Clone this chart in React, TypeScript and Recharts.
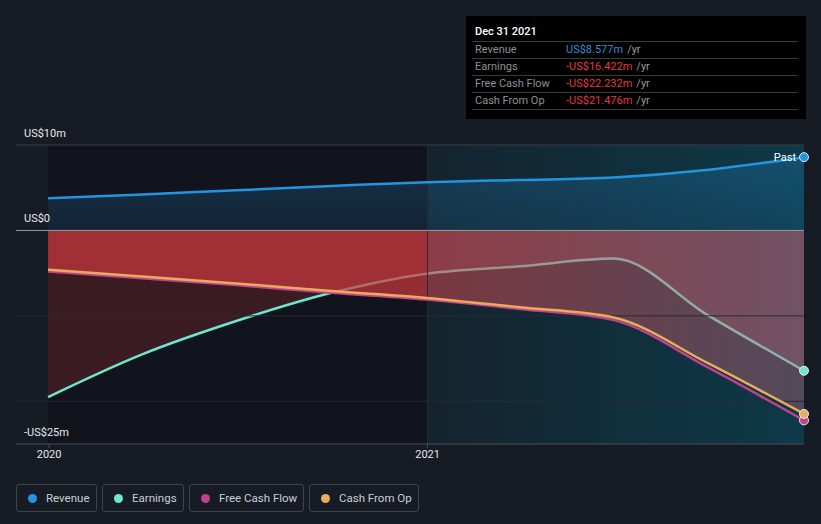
import React from "react";
import { ComposedChart, Area, Line, XAxis, YAxis, ReferenceLine } from "recharts";

// quarterly trailing-twelve-month values, US$ millions
const dates = ["2019-12-31", "2020-03-31", "2020-06-30", "2020-09-30", "2020-12-31", "2021-03-31", "2021-06-30", "2021-09-30", "2021-12-31"];
const revenue = [3.76, 4.2, 4.7, 5.2, 5.65, 5.9, 6.2, 7.1, 8.577];
const earnings = [-19.5, -14.5, -10.6, -7.3, -5.06, -4.2, -3.3, -10.0, -16.422];
const freeCashFlow = [-4.8, -5.6, -6.4, -7.3, -8.1, -9.2, -10.5, -16.1, -22.232];
const cashFromOp = [-4.6, -5.4, -6.2, -7.1, -7.9, -9.0, -10.2, -15.6, -21.476];

const yLabels = [
  { value: 10, text: "US$10m" },
  { value: 0, text: "US$0" },
  { value: -25, text: "-US$25m" },
];
const xTicks = [Date.UTC(2020, 0, 1), Date.UTC(2021, 0, 1)];

const DAY = 864e5;
const toTime = (d: string) => Date.parse(d + "T00:00:00Z");

const data = dates.map((d, i) => ({
  t: toTime(d),
  revenue: revenue[i],
  earnings: earnings[i],
  fcf: freeCashFlow[i],
  cfo: cashFromOp[i],
}));

const last = data.length - 1;
const tStart = data[0].t;
const tEnd = data[last].t;

const FONT = "Roboto, 'Open Sans', Arial, sans-serif";
const BG = "#161b24";

const C = {
  revenue: "#2394df",
  earnings: "#6ee7d0",
  fcf: "#c2418a",
  cfo: "#e8ad5c",
};

// plot spans x 16..804, y 145..444; the "past" highlight starts at 2021 (x 428)
const PAST_OFFSET = "52.3%";

const endDot = (color: string, label?: string) => (props: any) => {
  const { cx, cy, index } = props;
  if (index !== last) return <g key={`d${index}`} />;
  return (
    <g key={`d${index}`}>
      {label && (
        <text x={cx - 8} y={cy + 4} textAnchor="end" fill="#ffffff" fontSize={11} fontFamily={FONT}>
          {label}
        </text>
      )}
      <circle cx={cx} cy={cy} r={4.5} fill={color} stroke="#e8eef5" strokeWidth={1} />
    </g>
  );
};

const yLabel = (text: string) => (props: any) => {
  const { viewBox } = props;
  return (
    <text x={24} y={viewBox.y - 8} fill="#e8e8e8" fontSize={11} fontFamily={FONT}>
      {text}
    </text>
  );
};

const legendItems = [
  { name: "Revenue", color: C.revenue, width: 81 },
  { name: "Earnings", color: C.earnings, width: 82 },
  { name: "Free Cash Flow", color: C.fcf, width: 115 },
  { name: "Cash From Op", color: C.cfo, width: 110 },
];

const tooltipRows = [
  { name: "Revenue", value: "US$8.577m", color: "#2e8fd6" },
  { name: "Earnings", value: "-US$16.422m", color: "#e5383e" },
  { name: "Free Cash Flow", value: "-US$22.232m", color: "#e5383e" },
  { name: "Cash From Op", value: "-US$21.476m", color: "#e5383e" },
];

export default function App() {
  return (
    <div style={{ position: "fixed", left: 0, top: 0, width: 821, height: 524, background: BG, fontFamily: FONT, overflow: "hidden" }}>
      {/* background bands behind the plot */}
      <div style={{ position: "absolute", left: 48, top: 145, width: 380, height: 299, background: "rgba(10,13,19,0.45)" }} />
      <div
        style={{
          position: "absolute",
          left: 428,
          top: 145,
          width: 376,
          height: 299,
          background: "linear-gradient(to right, rgba(0,107,133,0.1), rgba(0,107,133,0.38))",
        }}
      />
      <ComposedChart
        width={821}
        height={524}
        data={data}
        margin={{ top: 145, right: 17, left: 16, bottom: 50 }}
        style={{ position: "absolute", left: 0, top: 0 }}
      >
        <defs>
          <linearGradient id="revFill" x1="0" y1="0" x2="0" y2="1">
            <stop offset="0%" stopColor="#2394df" stopOpacity={0.24} />
            <stop offset="100%" stopColor="#2394df" stopOpacity={0.13} />
          </linearGradient>
          <linearGradient id="redFill" gradientUnits="userSpaceOnUse" x1="16" y1="0" x2="804" y2="0">
            <stop offset="0%" stopColor="rgb(203,56,61)" stopOpacity={0.7} />
            <stop offset={PAST_OFFSET} stopColor="rgb(203,56,61)" stopOpacity={0.7} />
            <stop offset={PAST_OFFSET} stopColor="rgb(196,70,78)" stopOpacity={0.58} />
            <stop offset="100%" stopColor="rgb(196,100,118)" stopOpacity={0.38} />
          </linearGradient>
          <linearGradient id="earnFill" gradientUnits="userSpaceOnUse" x1="16" y1="0" x2="804" y2="0">
            <stop offset="0%" stopColor="#e03a3e" stopOpacity={0.2} />
            <stop offset={PAST_OFFSET} stopColor="#e03a3e" stopOpacity={0.2} />
            <stop offset={PAST_OFFSET} stopColor="rgb(200,90,110)" stopOpacity={0.24} />
            <stop offset="100%" stopColor="rgb(200,110,130)" stopOpacity={0.26} />
          </linearGradient>
        </defs>
        <XAxis
          dataKey="t"
          type="number"
          domain={[tStart - 31 * DAY, tEnd]}
          ticks={xTicks}
          tickFormatter={(v: number) => String(new Date(v).getUTCFullYear())}
          height={30}
          stroke="#4a4f58"
          tickSize={4}
          tick={{ fill: "#e8e8e8", fontSize: 11, fontFamily: FONT }}
        />
        <YAxis type="number" domain={[-25, 10]} hide allowDataOverflow />
        <ReferenceLine y={10} stroke="#3a3f48" label={yLabel(yLabels[0].text)} />
        <ReferenceLine y={-10} stroke="#262b34" />
        <ReferenceLine y={-20} stroke="#262b34" />
        <ReferenceLine y={-25} stroke="none" label={yLabel(yLabels[2].text)} />
        <ReferenceLine x={xTicks[1]} stroke="#262c35" />
        <Area dataKey="revenue" type="monotone" stroke="none" fill="url(#revFill)" fillOpacity={1} baseValue={0} isAnimationActive={false} />
        <Area dataKey="earnings" type="monotone" stroke={C.earnings} strokeWidth={2.5} fill="url(#earnFill)" fillOpacity={1} baseValue={0} dot={endDot(C.earnings)} isAnimationActive={false} />
        <Area dataKey="cfo" type="monotone" stroke="none" fill="url(#redFill)" fillOpacity={1} baseValue={0} isAnimationActive={false} />
        <ReferenceLine y={0} stroke="#9a9a9a" label={yLabel(yLabels[1].text)} />
        <Line dataKey="fcf" type="monotone" stroke={C.fcf} strokeWidth={2.5} dot={endDot(C.fcf)} isAnimationActive={false} />
        <Line dataKey="cfo" type="monotone" stroke={C.cfo} strokeWidth={2.5} dot={endDot(C.cfo)} isAnimationActive={false} />
        <Line dataKey="revenue" type="monotone" stroke={C.revenue} strokeWidth={2.5} dot={endDot(C.revenue, "Past")} isAnimationActive={false} />
      </ComposedChart>

      <div style={{ position: "absolute", left: 466, top: 16, width: 340, height: 103, background: "#000000", boxSizing: "border-box", padding: "0 8px 0 6px" }}>
        <div style={{ color: "#ffffff", fontSize: 11, fontWeight: 500, height: 25, lineHeight: "32px", paddingLeft: 3 }}>Dec 31 2021</div>
        {tooltipRows.map((r) => (
          <div key={r.name} style={{ display: "flex", height: 16, lineHeight: "16px", fontSize: 11, borderTop: "1px solid #3a3a3a", paddingLeft: 3 }}>
            <span style={{ width: 91, color: "#8c9096" }}>{r.name}</span>
            <span style={{ color: r.color }}>{r.value}</span>
            <span style={{ color: "#9a9a9a", marginLeft: 4 }}>/yr</span>
          </div>
        ))}
        <div style={{ borderTop: "1px solid #3a3a3a" }} />
      </div>

      <div style={{ position: "absolute", left: 16, top: 484, display: "flex", gap: 5 }}>
        {legendItems.map((it) => (
          <div
            key={it.name}
            style={{
              width: it.width,
              height: 28,
              boxSizing: "border-box",
              border: "1px solid #3d434d",
              borderRadius: 3,
              display: "flex",
              alignItems: "center",
              paddingLeft: 11,
              color: "#c9ced6",
              fontSize: 11.5,
              whiteSpace: "nowrap",
            }}
          >
            <span style={{ width: 9, height: 9, borderRadius: "50%", background: it.color, marginRight: 9, flex: "none" }} />
            {it.name}
          </div>
        ))}
      </div>
    </div>
  );
}
